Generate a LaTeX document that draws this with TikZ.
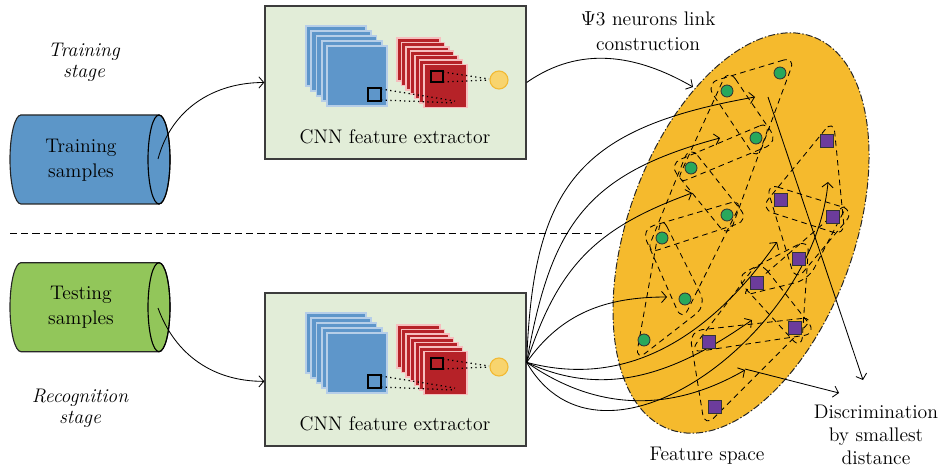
\documentclass[tikz,border=0pt]{standalone}
\usepackage{fontspec}
\usetikzlibrary{arrows.meta,calc}

\definecolor{trainfill}{RGB}{92,150,200}
\definecolor{testfill}{RGB}{146,198,90}
\definecolor{boxfill}{RGB}{226,237,216}
\definecolor{boxline}{RGB}{60,60,60}
\definecolor{cnnblue}{RGB}{94,150,202}
\definecolor{cnnbluelight}{RGB}{182,206,232}
\definecolor{cnnred}{RGB}{182,34,40}
\definecolor{cnnredlight}{RGB}{246,190,190}
\definecolor{outfill}{RGB}{248,212,110}
\definecolor{outdraw}{RGB}{242,186,52}
\definecolor{spacefill}{RGB}{245,186,45}
\definecolor{neurongreen}{RGB}{40,168,92}
\definecolor{neuronpurple}{RGB}{108,60,156}

\tikzset{
  txt/.style={font=\fontsize{14}{17.5}\selectfont, align=center, inner sep=0pt},
  stagetxt/.style={txt, font=\fontsize{14}{15}\selectfont\itshape},
  cnnbox/.style={draw=boxline, fill=boxfill, line width=0.9pt,
    minimum width=6.525cm, minimum height=3.825cm},
  link/.style={-{Straight Barb[length=3.5pt,width=8pt]}, line width=0.6pt},
  sepline/.style={dash pattern=on 5pt off 3pt, line width=0.6pt},
  dotline/.style={dash pattern=on 0.9pt off 2.4pt, line width=0.9pt},
  hullline/.style={dash pattern=on 4pt off 3pt, rounded corners=9pt, line width=0.6pt},
  gneuron/.style={circle, draw=black!80, fill=neurongreen, minimum size=0.3cm,
    inner sep=0pt, line width=0.6pt},
  pneuron/.style={rectangle, draw=black!80, fill=neuronpurple, minimum size=0.32cm,
    inner sep=0pt, line width=0.6pt},
}

% cylinder of samples: #1 centre y, #2 colour
\newcommand{\samplecyl}[2]{%
  \filldraw[fill=#2, draw=black!85, line width=0.8pt]
    (21,{#1+44.5}) -- (159,{#1+44.5})
    arc[start angle=90, end angle=-90, x radius=11, y radius=44.5]
    -- (21,{#1-44.5})
    arc[start angle=270, end angle=90, x radius=11, y radius=44.5] -- cycle;
  \draw[line width=0.8pt] (159,#1) ellipse [x radius=11, y radius=44.5];}

% CNN layers inside a box: #1 vertical shift
\newcommand{\cnnstack}[1]{%
  \begin{scope}[shift={(0,#1)}]
    \foreach \i in {0,...,4}
      \filldraw[fill=cnnblue, draw=cnnbluelight, line width=1.2pt]
        ({306+5.25*\i},{-26-5*\i}) rectangle +(60,-60);
    \foreach \i in {0,...,6}
      \filldraw[fill=cnnred, draw=cnnredlight, line width=1.2pt]
        ({397+4.5*\i},{-38-4.4*\i}) rectangle +(43,-43);
    \draw[line width=0.8pt] (368,-88) rectangle (381,-101);
    \draw[line width=0.8pt] (431,-71) rectangle (443,-82);
    \draw[dotline] (381,-89) -- (455,-101);
    \draw[dotline] (381,-100) -- (455,-103);
    \draw[dotline] (443,-72) -- (489,-79);
    \draw[dotline] (443,-82) -- (489,-80);
    \filldraw[fill=outfill, draw=outdraw, line width=0.8pt] (499,-80) circle (9);
  \end{scope}}

% rounded link around three neurons
\newcommand{\linkhull}[3]{%
  \coordinate (hc) at ($0.3333*(#1)+0.3333*(#2)+0.3333*(#3)$);
  \draw[hullline] ($(#1)!-16pt!(hc)$) -- ($(#2)!-16pt!(hc)$)
    -- ($(#3)!-16pt!(hc)$) -- cycle;}

\begin{document}
\begin{tikzpicture}[x=0.025cm, y=0.025cm]
\useasboundingbox (0,0) rectangle (944,-471);

% stages
\node[stagetxt] (trainstage) at (84,-62) {Training\\stage};
\node[stagetxt] (recogstage) at (80,-408) {Recognition\\stage};

\coordinate (sepL) at (10,-233);
\coordinate (sepR) at (605,-233);
\draw[sepline] (sepL) -- (sepR);

% samples
\samplecyl{-159.5}{trainfill}
\samplecyl{-307.2}{testfill}
\node[txt] (trainset) at (81,-160) {Training\\samples};
\node[txt] (testset) at (81,-307) {Testing\\samples};
\coordinate (trainout) at (158,-159);
\coordinate (testout) at (158,-308);

% feature extractors
\node[cnnbox] (cnnA) at (395.5,-82.5) {};
\node[cnnbox] (cnnB) at (395.5,-369.4) {};
\cnnstack{0}
\cnnstack{-287}
\node[txt] (cnnAlabel) at (395,-137) {CNN feature extractor};
\node[txt] (cnnBlabel) at (395,-424) {CNN feature extractor};

\draw[link] (trainout) to[out=75, in=180] (cnnA.west);
\draw[link] (testout) to[out=-70, in=180] ([yshift=-8.5pt]cnnB.west);

% feature space
\filldraw[fill=spacefill, draw=black!85, line width=0.7pt,
  dash pattern=on 5pt off 1.5pt on 1pt off 1.5pt,
  rotate around={70:(741,-233)}] (741,-233) ellipse [x radius=209, y radius=113];
\node[txt] (spacelabel) at (707,-456) {Feature space};
\node[txt] (linklabel) at (648,-31) {$\Psi$3 neurons link\\construction};
\node[txt, font=\fontsize{14}{16.3}\selectfont] (disclabel) at (876,-435)
  {Discrimination\\by smallest\\distance};

% neurons
\foreach \n/\x/\y in {1/780/73, 2/727/91, 3/756/138, 4/691/168,
                      5/727/215, 6/662/238, 7/685/299, 8/644/340}
  \coordinate (g\n) at (\x,-\y);
\foreach \n/\x/\y in {1/827/141, 2/781/200, 3/833/217, 4/799/259,
                      5/757/283, 6/795/328, 7/709/342, 8/715/407}
  \coordinate (p\n) at (\x,-\y);

\foreach \a/\b/\c in {g1/g2/g3, g2/g3/g4, g3/g4/g5, g4/g5/g6, g5/g6/g7, g6/g7/g8,
                      p1/p2/p3, p2/p3/p4, p3/p4/p5, p4/p5/p6, p5/p6/p7, p6/p7/p8}
  {\linkhull{\a}{\b}{\c}}

% links into feature space
\coordinate (tipA) at (693,-87);
\draw[link] (cnnA.east) to[out=35, in=150] (tipA);

\coordinate (fan) at ([yshift=5pt]cnnB.east);
\foreach \k/\x/\y/\o/\n/\l in {1/755/97/88/190/1.3, 2/720/138/80/195/1.2,
    3/692/193/72/200/1.1, 4/667/297/55/180/1, 5/777/242/-15/235/1,
    6/752/320/-25/215/1, 7/745/370/-35/210/1, 8/828/182/-60/265/1.1}
{
  \coordinate (ft\k) at (\x,-\y);
  \draw[link] (fan) to[out=\o, in=\n, looseness=\l] (ft\k);
}

% discrimination
\coordinate (ds1) at (768,-97);
\coordinate (de1) at (863,-380);
\coordinate (ds2) at (745,-369);
\coordinate (de2) at (839,-393);
\draw[link] (ds1) -- (de1);
\draw[link] (ds2) -- (de2);

\foreach \n in {1,...,8} {
  \node[gneuron] (gn\n) at (g\n) {};
  \node[pneuron] (pn\n) at (p\n) {};
}
\end{tikzpicture}
\end{document}
